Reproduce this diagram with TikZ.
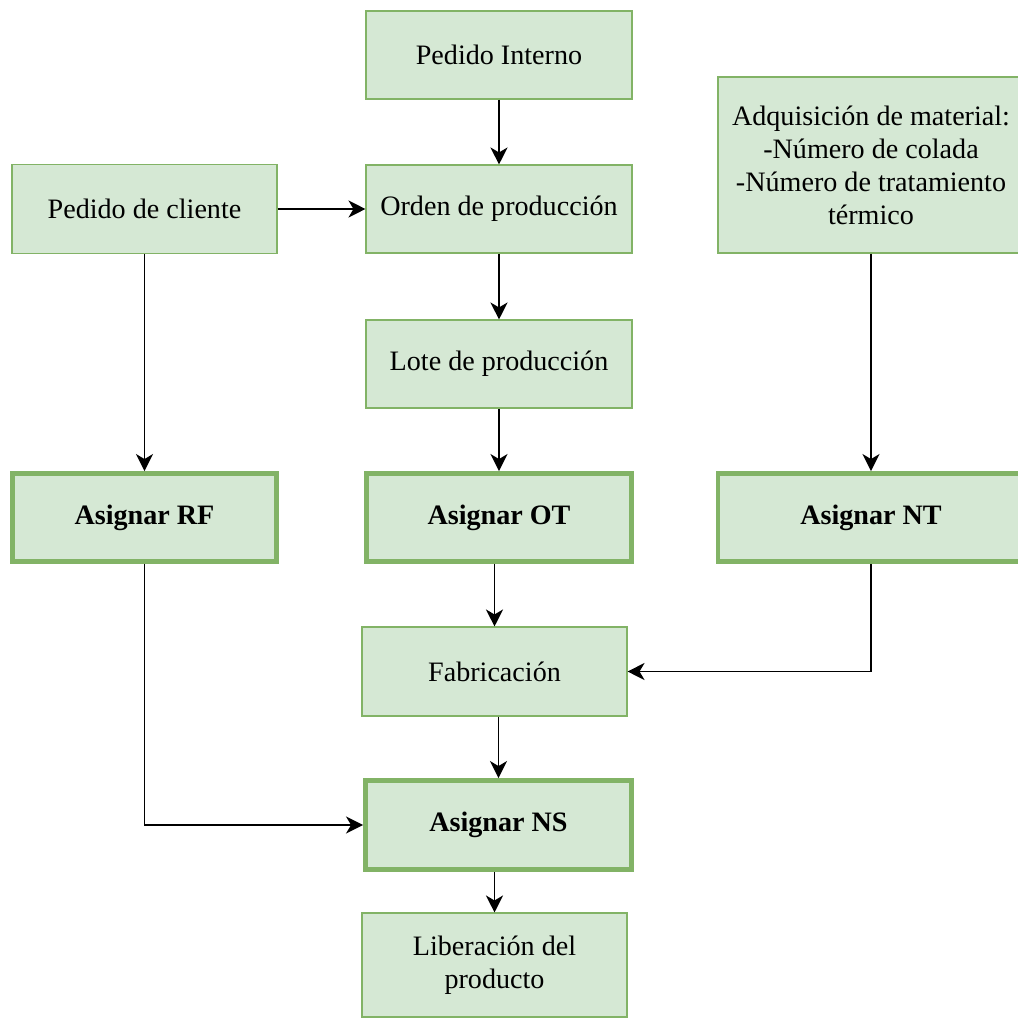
\documentclass[tikz,border=0pt]{standalone}
\usepackage{fontspec}
\setmainfont{Liberation Serif}
\usepackage{tikz}
\usepackage{xcolor}
\usetikzlibrary{arrows.meta,positioning,calc}
\definecolor{boxfill}{HTML}{D5E8D4}
\definecolor{boxline}{HTML}{82B366}
\tikzset{
  block/.style={draw=boxline, fill=boxfill, line width=0.6pt, align=center,
                inner sep=4pt, font=\fontsize{16}{18.8}\selectfont,
                minimum width=5.3cm, minimum height=1.76cm},
  keybox/.style={block, line width=2.8pt, font=\fontsize{16}{18.8}\selectfont\bfseries},
  arrow/.style={-{Stealth[length=3.4mm,width=3.4mm,inset=1mm]}, line width=1pt, draw=black}
}
\begin{document}
\begin{tikzpicture}[x=1cm,y=1cm]
        \useasboundingbox (0,0) rectangle (20.34,-20.38);
        % top row
        \node[block,minimum width=5.32cm] (pedint) at (9.98,-1.10) {Pedido Interno};
        \node[block,minimum width=5.32cm,minimum height=1.76cm] (orden) at (9.98,-4.18) {Orden de producción};
        \node[block,minimum height=1.78cm] (cliente) at (2.89,-4.18) {Pedido de cliente};
        \node[block,minimum width=6.12cm,minimum height=3.52cm] (adq) at (17.42,-3.30)
          {Adquisición de material:\\-Número de colada\\-Número de tratamiento\\térmico};
        \node[block,minimum width=5.32cm] (lote) at (9.98,-7.28) {Lote de producción};
        % assignment boxes
        \node[keybox,minimum width=5.28cm] (rf) at (2.89,-10.35) {Asignar RF};
        \node[keybox] (ot) at (9.98,-10.35) {Asignar OT};
        \node[keybox,minimum width=6.12cm] (nt) at (17.42,-10.35) {Asignar NT};
        % lower column
        \node[block,minimum height=1.78cm] (fab) at (9.89,-13.43) {Fabricación};
        \node[keybox,minimum width=5.32cm,minimum height=1.78cm] (ns) at (9.97,-16.50) {Asignar NS};
        \node[block,minimum height=2.08cm] (lib) at (9.89,-19.30) {Liberación del\\producto};
        % connectors
        \draw[arrow] (pedint) -- (orden);
        \draw[arrow] (cliente) -- (orden);
        \draw[arrow] (orden) -- (lote);
        \draw[arrow] (lote) -- (ot);
        \draw[arrow] (cliente) -- (rf);
        \draw[arrow] (adq) -- (nt);
        \draw[arrow] (ot.south -| fab) -- (fab.north);
        \draw[arrow] (nt.south) |- (fab.east);
        \draw[arrow] (fab.south -| ns) -- (ns.north);
        \draw[arrow] (rf.south) |- (ns.west);
        \draw[arrow] (ns.south -| lib) -- (lib.north);
      \end{tikzpicture}
\end{document}
